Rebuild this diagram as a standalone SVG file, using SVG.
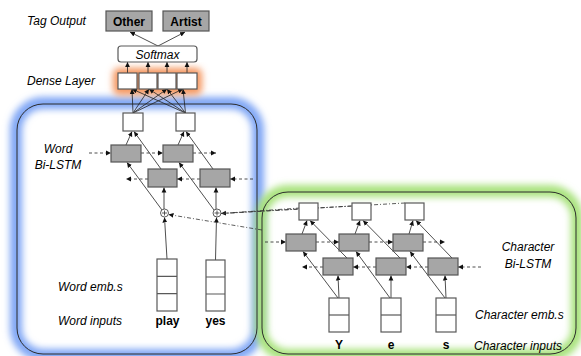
<svg xmlns="http://www.w3.org/2000/svg" width="581" height="356" viewBox="0 0 581 356">
<defs>
<style>
.lbl{font-family:"Liberation Sans",Arial,sans-serif;font-size:12px;font-style:italic;fill:#000}
.bold{font-family:"Liberation Sans",Arial,sans-serif;font-size:12px;font-weight:bold;fill:#000}
.wb{fill:#fff;stroke:#595959;stroke-width:1.2}
.gb{fill:#a6a6a6;stroke:#555;stroke-width:1.2}
.ln{stroke:#222;stroke-width:0.8;fill:none}
.dash{stroke:#222;stroke-width:0.8;fill:none;stroke-dasharray:3 2.5}
.dd{stroke:#333;stroke-width:0.8;fill:none;stroke-dasharray:4 2 1 2}
.frame{fill:none;stroke:#2b2b2b;stroke-width:1}
</style>
<marker id="ah" markerWidth="6" markerHeight="6" refX="5" refY="3" orient="auto" markerUnits="userSpaceOnUse">
<path d="M0,0.6 L5,3 L0,5.4 Z" fill="#111"/>
</marker>
<filter id="blur" x="-20%" y="-20%" width="140%" height="140%">
<feGaussianBlur stdDeviation="3.5"/>
</filter>
</defs>

<!-- glows -->
<rect x="16" y="103" width="242" height="252" rx="27" fill="none" stroke="#7ea5f5" stroke-width="12" filter="url(#blur)"/>
<rect x="261" y="191" width="316" height="164" rx="27" fill="none" stroke="#a8e27c" stroke-width="12" filter="url(#blur)"/>
<rect x="113" y="68" width="89" height="27" rx="6" fill="#f5965f" filter="url(#blur)"/>

<g id="word-frame"><rect class="frame" x="17" y="104" width="240" height="250" rx="26"/></g>
<g id="char-frame"><rect class="frame" x="262" y="192" width="314" height="162" rx="26"/></g>

<!-- labels -->
<g id="labels">
<text class="lbl" x="27" y="25">Tag Output</text>
<text class="lbl" x="27" y="85">Dense Layer</text>
<text class="lbl" x="58" y="153" text-anchor="middle">Word</text>
<text class="lbl" x="58" y="169" text-anchor="middle">Bi-LSTM</text>
<text class="lbl" x="58" y="291">Word emb.s</text>
<text class="lbl" x="58" y="325">Word inputs</text>
<text class="lbl" x="528" y="251" text-anchor="middle">Character</text>
<text class="lbl" x="528" y="268" text-anchor="middle">Bi-LSTM</text>
<text class="lbl" x="475" y="319">Character emb.s</text>
<text class="lbl" x="474" y="350">Character inputs</text>
</g>

<!-- connectors -->
<g id="connectors">
<path class="ln" d="M158,46 L130,32" marker-end="url(#ah)"/>
<path class="ln" d="M158,46 L185,32" marker-end="url(#ah)"/>
<path class="ln" d="M127.5,73 L127.5,62" marker-end="url(#ah)"/>
<path class="ln" d="M148,73 L148,62" marker-end="url(#ah)"/>
<path class="ln" d="M167,73 L167,62" marker-end="url(#ah)"/>
<path class="ln" d="M187,73 L187,62" marker-end="url(#ah)"/>
<path class="ln" d="M133,113 L132,89" marker-end="url(#ah)"/>
<path class="ln" d="M133,113 L149,89" marker-end="url(#ah)"/>
<path class="ln" d="M133,113 L167,89" marker-end="url(#ah)"/>
<path class="ln" d="M133,113 L183,89" marker-end="url(#ah)"/>
<path class="ln" d="M185.5,113 L132,89" marker-end="url(#ah)"/>
<path class="ln" d="M185.5,113 L149,89" marker-end="url(#ah)"/>
<path class="ln" d="M185.5,113 L167,89" marker-end="url(#ah)"/>
<path class="ln" d="M185.5,113 L183,89" marker-end="url(#ah)"/>
<path class="ln" d="M126,145 L132,131.5" marker-end="url(#ah)"/>
<path class="ln" d="M161,169 L134,131.5" marker-end="url(#ah)"/>
<path class="ln" d="M178,145 L184,131.5" marker-end="url(#ah)"/>
<path class="ln" d="M213,169 L186,131.5" marker-end="url(#ah)"/>
<path class="ln" d="M164,209 L164,187.5" marker-end="url(#ah)"/>
<path class="ln" d="M162,210 L127,162.5" marker-end="url(#ah)"/>
<path class="ln" d="M216,209 L216,187.5" marker-end="url(#ah)"/>
<path class="ln" d="M214,210 L179,162.5" marker-end="url(#ah)"/>
<path class="dash" d="M89,153 L111,153" marker-end="url(#ah)"/>
<path class="dash" d="M141,153 L163,153" marker-end="url(#ah)"/>
<path class="dash" d="M193,153 L216,153" marker-end="url(#ah)"/>
<path class="dash" d="M148,179 L126,179" marker-end="url(#ah)"/>
<path class="dash" d="M200,179 L177,179" marker-end="url(#ah)"/>
<path class="dash" d="M253,179 L230,179" marker-end="url(#ah)"/>
<path class="ln" d="M167,259 L164.5,217.5" marker-end="url(#ah)"/>
<path class="ln" d="M215.5,260 L216.5,217.5" marker-end="url(#ah)"/>
<path class="dd" d="M262,230 L168.5,214.5" marker-end="url(#ah)"/>
<path class="dd" d="M300,208 L221,213.5" marker-end="url(#ah)"/>
<path class="dd" d="M352,206 L221,213.5"/>
<path class="dd" d="M405,203 L221,213.5"/>
<path class="ln" d="M302,234 L307,220.5" marker-end="url(#ah)"/>
<path class="ln" d="M347,258 L310,220.5" marker-end="url(#ah)"/>
<path class="ln" d="M355,234 L360,220.5" marker-end="url(#ah)"/>
<path class="ln" d="M400,258 L363,220.5" marker-end="url(#ah)"/>
<path class="ln" d="M409,234 L413,220.5" marker-end="url(#ah)"/>
<path class="ln" d="M452,258 L416,220.5" marker-end="url(#ah)"/>
<path class="ln" d="M339,298 L338,275.5" marker-end="url(#ah)"/>
<path class="ln" d="M338,298 L303,251.5" marker-end="url(#ah)"/>
<path class="ln" d="M391,298 L391,275.5" marker-end="url(#ah)"/>
<path class="ln" d="M390,298 L356,251.5" marker-end="url(#ah)"/>
<path class="ln" d="M446,298 L445,275.5" marker-end="url(#ah)"/>
<path class="ln" d="M445,298 L410,251.5" marker-end="url(#ah)"/>
<path class="dash" d="M265,242 L286,242" marker-end="url(#ah)"/>
<path class="dash" d="M316,242 L339,242" marker-end="url(#ah)"/>
<path class="dash" d="M369,242 L393,242" marker-end="url(#ah)"/>
<path class="dash" d="M423,242 L445,242" marker-end="url(#ah)"/>
<path class="dash" d="M323,267 L302,267" marker-end="url(#ah)"/>
<path class="dash" d="M376,267 L353,267" marker-end="url(#ah)"/>
<path class="dash" d="M428,267 L406,267" marker-end="url(#ah)"/>
<path class="dash" d="M481,267 L458,267" marker-end="url(#ah)"/>
</g>

<!-- nodes -->
<g id="tag-other"><rect class="gb" x="106" y="11" width="46" height="20"/><text class="bold" x="129" y="25.5" text-anchor="middle">Other</text></g>
<g id="tag-artist"><rect class="gb" x="163" y="11" width="46" height="20"/><text class="bold" x="186" y="25.5" text-anchor="middle">Artist</text></g>
<g id="softmax"><rect class="wb" x="118" y="46" width="79" height="16" rx="3"/><text class="lbl" x="157.5" y="58.5" text-anchor="middle">Softmax</text></g>
<g id="dense">
<rect class="wb" x="118" y="73" width="19" height="16"/>
<rect class="wb" x="139" y="73" width="18" height="16"/>
<rect class="wb" x="158" y="73" width="18" height="16"/>
<rect class="wb" x="177" y="73" width="20" height="16"/>
</g>
<g id="word-out-1"><rect class="wb" x="123" y="113" width="20" height="18"/></g>
<g id="word-out-2"><rect class="wb" x="176" y="113" width="19" height="18"/></g>
<g id="word-fwd-1"><rect class="gb" x="111" y="145" width="30" height="17"/></g>
<g id="word-fwd-2"><rect class="gb" x="163" y="145" width="30" height="17"/></g>
<g id="word-bwd-1"><rect class="gb" x="148" y="169" width="29" height="18"/></g>
<g id="word-bwd-2"><rect class="gb" x="200" y="169" width="30" height="18"/></g>
<g id="concat-1"><circle cx="164.5" cy="213" r="4" fill="#fff" stroke="#333" stroke-width="0.8"/><path d="M162,213 H167 M164.5,210.5 V215.5" stroke="#333" stroke-width="0.8"/></g>
<g id="concat-2"><circle cx="217" cy="213" r="4" fill="#fff" stroke="#333" stroke-width="0.8"/><path d="M214.5,213 H219.5 M217,210.5 V215.5" stroke="#333" stroke-width="0.8"/></g>
<g id="word-emb-1"><rect class="wb" x="157" y="259" width="20" height="52"/><path class="wb" d="M157,276.3 H177 M157,293.6 H177"/></g>
<g id="word-emb-2"><rect class="wb" x="206" y="260" width="19" height="51"/><path class="wb" d="M206,277 H225 M206,294 H225"/></g>
<text class="bold" x="167.5" y="325" text-anchor="middle">play</text>
<text class="bold" x="215.5" y="325" text-anchor="middle">yes</text>

<g id="char-out-1"><rect class="wb" x="299" y="203" width="19" height="17"/></g>
<g id="char-out-2"><rect class="wb" x="352" y="203" width="19" height="17"/></g>
<g id="char-out-3"><rect class="wb" x="405" y="203" width="19" height="17"/></g>
<g id="char-fwd-1"><rect class="gb" x="286" y="234" width="30" height="17"/></g>
<g id="char-fwd-2"><rect class="gb" x="339" y="234" width="30" height="17"/></g>
<g id="char-fwd-3"><rect class="gb" x="393" y="234" width="30" height="17"/></g>
<g id="char-bwd-1"><rect class="gb" x="323" y="258" width="30" height="17"/></g>
<g id="char-bwd-2"><rect class="gb" x="376" y="258" width="30" height="17"/></g>
<g id="char-bwd-3"><rect class="gb" x="428" y="258" width="30" height="17"/></g>
<g id="char-emb-1"><rect class="wb" x="329" y="298" width="20" height="34"/><path class="wb" d="M329,315 H349"/></g>
<g id="char-emb-2"><rect class="wb" x="381" y="298" width="20" height="34"/><path class="wb" d="M381,315 H401"/></g>
<g id="char-emb-3"><rect class="wb" x="436" y="298" width="20" height="34"/><path class="wb" d="M436,315 H456"/></g>
<text class="bold" x="339" y="349" text-anchor="middle">Y</text>
<text class="bold" x="391" y="349" text-anchor="middle">e</text>
<text class="bold" x="446" y="349" text-anchor="middle">s</text>
</svg>
